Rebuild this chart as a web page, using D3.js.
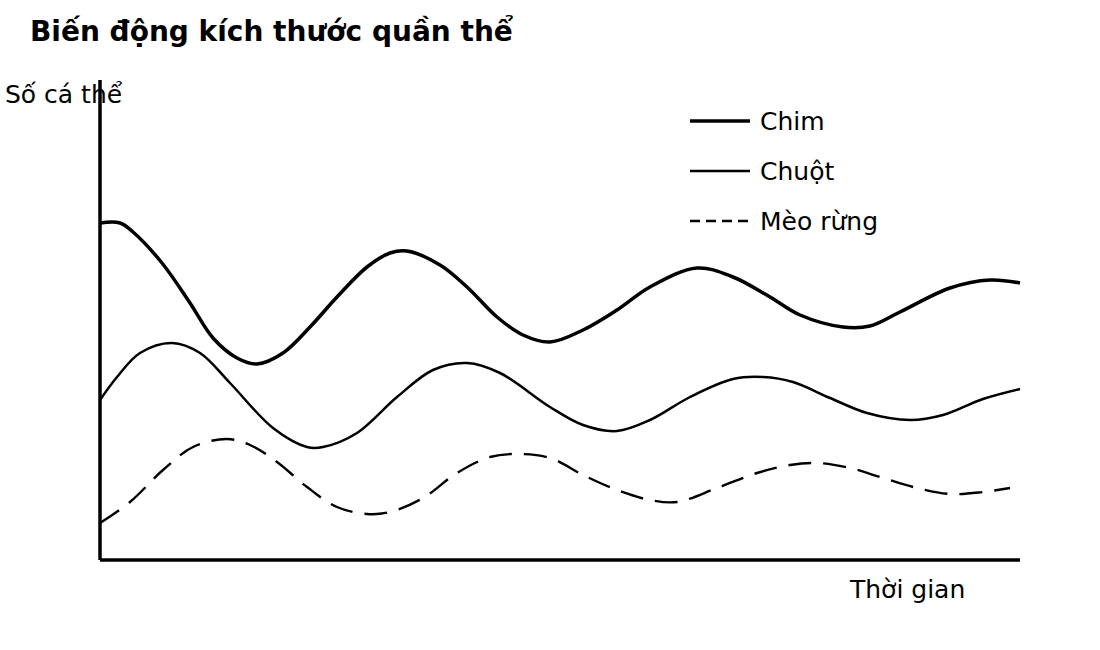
<!DOCTYPE html>
<html>
<head>
<meta charset="utf-8">
<script src="https://cdn.jsdelivr.net/npm/d3@7"></script>
<style>
  body { margin: 0; background: #fff; }
  text { font-family: "DejaVu Sans", sans-serif; fill: #000; }
</style>
</head>
<body>
<div id="chart"></div>
<script>
// values: [time, population]
var chim = [[0,33.7],[2,33.7],[3.3,32.8],[6.2,29.7],[9,25.7],[11.3,22.2],[13.7,20.2],[15.7,19.6],
	[18.3,20.7],[21,23.3],[23.7,26.3],[26.7,29.3],[29,30.7],[30.7,30.9],[34,29.5],[36.7,27.3],
	[39.7,24.3],[42.3,22.5],[45,21.8],[48.3,23],[51.7,25],[55,27.3],[59.7,29.2],[63.3,28.3],
	[67,26.3],[70,24.5],[74.3,23.3],[77,23.4],[80,24.8],[85,27.2],[89,28],[92,27.7]];
var chuot = [[0,16],[1.7,18.3],[4,20.7],[7.2,21.7],[10,20.7],[13,17.7],[17.3,13.2],[20.7,11.3],
	[22.3,11.3],[25.7,12.7],[29.7,16.3],[33.3,19],[36.7,19.7],[40,18.7],[45,15.3],[48.3,13.5],
	[51.7,12.9],[55,14],[59,16.3],[63.3,18.1],[66.3,18.3],[69.3,17.8],[73,16.2],[76.7,14.7],
	[81,14],[84.3,14.5],[88.3,16.1],[92,17.1]];
var meoRung = [[0,3.7],[3,5.8],[6.3,9],[9.3,11.3],[12.7,12.1],[15,11.5],[17.7,9.8],[20.7,7.3],
	[23.7,5.3],[26.7,4.6],[29,4.8],[32.3,6.2],[35.7,8.7],[39,10.3],[41.7,10.6],[45,10.2],
	[48.3,8.5],[51.7,7],[55,6],[57.7,5.8],[61.7,7.2],[65.7,8.7],[69,9.5],[71.7,9.7],[75,9.2],
	[78.3,8.2],[81.7,7.2],[85,6.6],[88.3,6.8],[91,7.2]];

var seriesNames = ["Chim", "Chuột", "Mèo rừng"];
var title = "Biến động kích thước quần thể";
var yLabel = "Số cá thể";
var xLabel = "Thời gian";

var width = 1100,
	height = 650;

var series = [
	{name: seriesNames[0], values: chim, width: 3.5, dash: null, legendDash: null},
	{name: seriesNames[1], values: chuot, width: 2.5, dash: null, legendDash: null},
	{name: seriesNames[2], values: meoRung, width: 2.4, dash: "23,12", legendDash: "10,6"}
];

var x = d3.scaleLinear().domain([0, 92]).range([100, 1020]);
var y = d3.scaleLinear().domain([0, 48]).range([560, 80]);

var svg = d3.select("#chart")
	.append("svg")
		.attr("width", width)
		.attr("height", height);

svg.append("text")
	.attr("x", 30)
	.attr("y", 41)
	.attr("font-size", 28)
	.attr("font-weight", "bold")
	.text(title);

var line = d3.line()
	.x(function(d) { return x(d[0]); })
	.y(function(d) { return y(d[1]); })
	.curve(d3.curveCatmullRom.alpha(0.5));

svg.selectAll("path.series")
	.data(series)
	.enter()
	.append("path")
		.attr("class", "series")
		.attr("d", function(d) { return line(d.values); })
		.attr("fill", "none")
		.attr("stroke", "#000")
		.attr("stroke-width", function(d) { return d.width; })
		.attr("stroke-dasharray", function(d) { return d.dash; });

// axes: plain lines, no ticks
svg.append("line")
	.attr("x1", x(0)).attr("x2", x(0))
	.attr("y1", y(48)).attr("y2", y(0))
	.attr("stroke", "#000")
	.attr("stroke-width", 3.5);

svg.append("line")
	.attr("x1", x(0)).attr("x2", x(92))
	.attr("y1", y(0)).attr("y2", y(0))
	.attr("stroke", "#000")
	.attr("stroke-width", 3.5);

svg.append("text")
	.attr("x", 5)
	.attr("y", 103)
	.attr("font-size", 25)
	.text(yLabel);

svg.append("text")
	.attr("x", 850)
	.attr("y", 598)
	.attr("font-size", 25)
	.text(xLabel);

var legend = svg.append("g");

var item = legend.selectAll("g")
	.data(series)
	.enter()
	.append("g")
		.attr("transform", function(d, i) { return "translate(690," + (121 + i*50) + ")"; });

item.append("line")
	.attr("x1", 0).attr("x2", 60)
	.attr("stroke", "#000")
	.attr("stroke-width", function(d) { return d.width; })
	.attr("stroke-dasharray", function(d) { return d.legendDash; });

item.append("text")
	.attr("x", 70)
	.attr("y", 9)
	.attr("font-size", 25)
	.text(function(d) { return d.name; });
</script>
</body>
</html>
